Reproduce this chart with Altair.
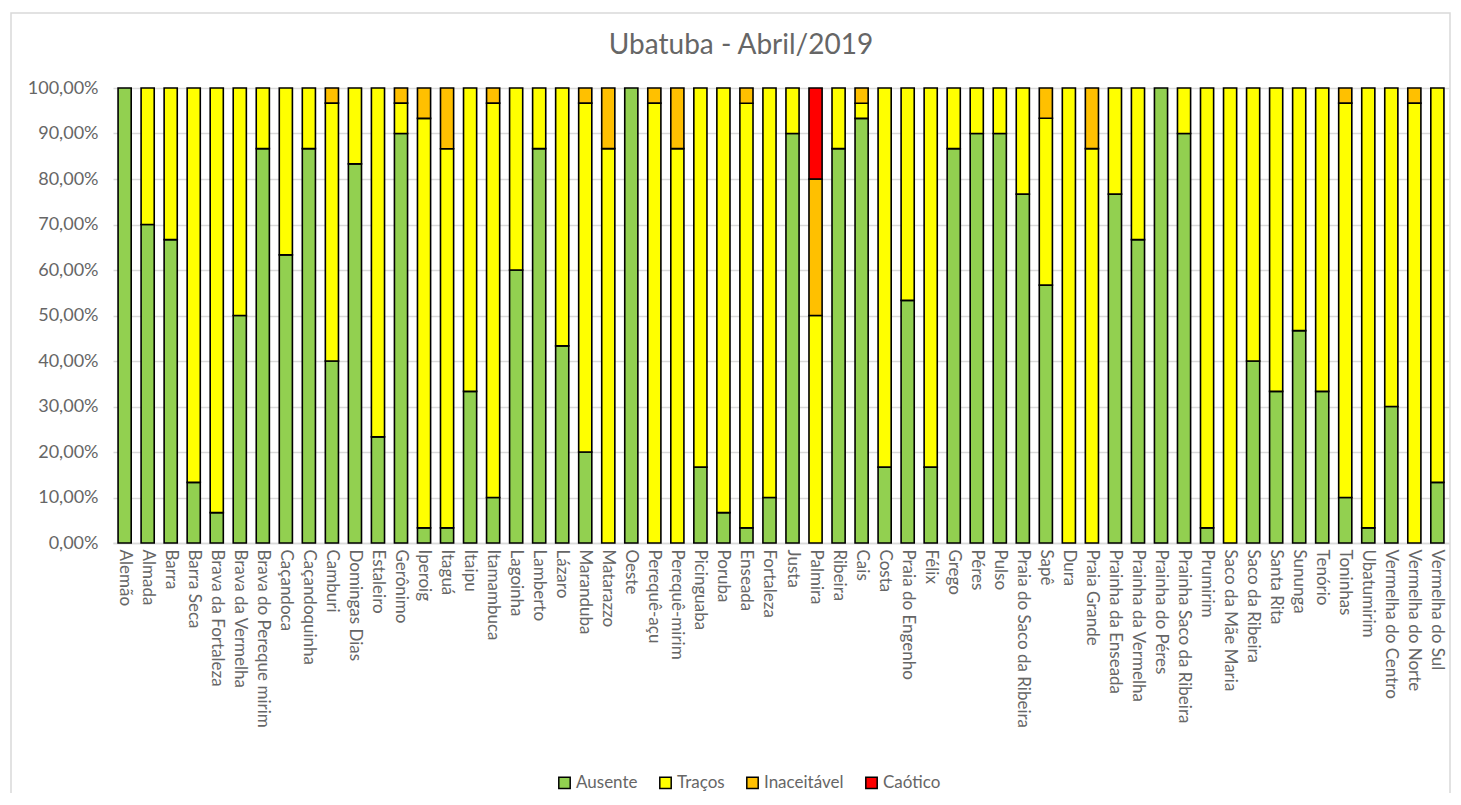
import altair as alt
import pandas as pd

praias = ["Alemão", "Almada", "Barra", "Barra Seca", "Brava da Fortaleza", "Brava da Vermelha",
          "Brava do Pereque mirim", "Caçandoca", "Caçandoquinha", "Camburi", "Domingas Dias",
          "Estaleiro", "Gerônimo", "Iperoig", "Itaguá", "Itaipu", "Itamambuca", "Lagoinha",
          "Lamberto", "Lázaro", "Maranduba", "Matarazzo", "Oeste", "Perequê-açu", "Perequê-mirim",
          "Picinguaba", "Poruba", "Enseada", "Fortaleza", "Justa", "Palmira", "Ribeira", "Cais",
          "Costa", "Praia do Engenho", "Félix", "Grego", "Péres", "Pulso", "Praia do Saco da Ribeira",
          "Sapê", "Dura", "Praia Grande", "Prainha da Enseada", "Prainha da Vermelha",
          "Prainha do Péres", "Prainha Saco da Ribeira", "Prumirim", "Saco da Mãe Maria",
          "Saco da Ribeira", "Santa Rita", "Sununga", "Tenório", "Toninhas", "Ubatumirim",
          "Vermelha do Centro", "Vermelha do Norte", "Vermelha do Sul"]

ausente = [100, 70, 66.67, 13.33, 6.67, 50, 86.67, 63.33, 86.67, 40, 83.33, 23.33, 90, 3.33, 3.33,
           33.33, 10, 60, 86.67, 43.33, 20, 0, 100, 0, 0, 16.67, 6.67, 3.33, 10, 90, 0, 86.67, 93.33,
           16.67, 53.33, 16.67, 86.67, 90, 90, 76.67, 56.67, 0, 0, 76.67, 66.67, 100, 90, 3.33, 0,
           40, 33.33, 46.67, 33.33, 10, 3.33, 30, 0, 13.33]
tracos = [0, 30, 33.33, 86.67, 93.33, 50, 13.33, 36.67, 13.33, 56.67, 16.67, 76.67, 6.67, 90, 83.33,
          66.67, 86.67, 40, 13.33, 56.67, 76.67, 86.67, 0, 96.67, 86.67, 83.33, 93.33, 93.33, 90, 10,
          50, 13.33, 3.33, 83.33, 46.67, 83.33, 13.33, 10, 10, 23.33, 36.67, 100, 86.67, 23.33, 33.33,
          0, 10, 96.67, 100, 60, 66.67, 53.33, 66.67, 86.67, 96.67, 70, 96.67, 86.67]
inaceitavel = [0, 0, 0, 0, 0, 0, 0, 0, 0, 3.33, 0, 0, 3.33, 6.67, 13.33, 0, 3.33, 0, 0, 0, 3.33,
               13.33, 0, 3.33, 13.33, 0, 0, 3.33, 0, 0, 30, 0, 3.33, 0, 0, 0, 0, 0, 0, 0, 6.67, 0,
               13.33, 0, 0, 0, 0, 0, 0, 0, 0, 0, 0, 3.33, 0, 0, 3.33, 0]
caotico = [0] * 30 + [20] + [0] * 27

series = ["Ausente", "Traços", "Inaceitável", "Caótico"]
cores = ["#92d050", "#ffff00", "#ffc000", "#ff0000"]
titulo = "Ubatuba - Abril/2019"

rows = []
for i, p in enumerate(praias):
    for k, (s, vals) in enumerate(zip(series, [ausente, tracos, inaceitavel, caotico])):
        v = vals[i]
        if v > 0:
            rows.append({"praia": p, "serie": s, "ordem": k, "valor": v / 100.0})
df = pd.DataFrame(rows)

FONT = "Lato"
GRAY = "#666666"

bars = alt.Chart(df).mark_bar(stroke="black", strokeWidth=1.6).encode(
    x=alt.X("praia:N", sort=praias, title=None,
            scale=alt.Scale(paddingInner=0.43, paddingOuter=0.22),
            axis=alt.Axis(labelAngle=90, labelAlign="left", labelBaseline="middle",
                          labelFontSize=17, labelColor=GRAY, labelFont=FONT, labelLimit=0,
                          labelPadding=6, ticks=False, domainColor="#d9d9d9", domainWidth=1.5)),
    y=alt.Y("valor:Q", stack="zero", title=None,
            scale=alt.Scale(domain=[0, 1], nice=False),
            axis=alt.Axis(values=[i / 10 for i in range(11)],
                          labelExpr="replace(format(datum.value, '.2%'), '.', ',')",
                          labelFontSize=18, labelColor=GRAY, labelFont=FONT, labelPadding=15,
                          ticks=False, domain=False, gridColor="#d9d9d9", gridWidth=1.3)),
    color=alt.Color("serie:N", sort=series,
                    scale=alt.Scale(domain=series, range=cores),
                    legend=alt.Legend(title=None, orient="none", direction="horizontal",
                                      legendX=443, legendY=686, symbolType="square",
                                      symbolSize=130, symbolStrokeColor="black",
                                      symbolStrokeWidth=1.5, labelFontSize=17,
                                      labelColor=GRAY, labelFont=FONT, columnPadding=18,
                                      labelOffset=3)),
    order=alt.Order("ordem:Q", sort="ascending"),
)

border = alt.Chart(pd.DataFrame({"a": [0]})).mark_rect(
    fill=None, stroke="#d9d9d9", strokeWidth=1.5
).encode(x=alt.value(-102), x2=alt.value(1337), y=alt.value(-75), y2=alt.value(712))

title = alt.Chart(pd.DataFrame({"t": [titulo]})).mark_text(
    font=FONT, fontSize=28, color=GRAY, baseline="middle", align="center"
).encode(x=alt.value(628), y=alt.value(-42), text="t:N")

chart = alt.layer(border, title, bars).properties(
    width=1336, height=455,
    autosize=alt.AutoSizeParams(type="none"),
    padding={"left": 105, "top": 80, "right": 4, "bottom": 250},
).configure_view(stroke=None)

chart.save("out.html", embed_options={"renderer": "svg", "actions": False})
